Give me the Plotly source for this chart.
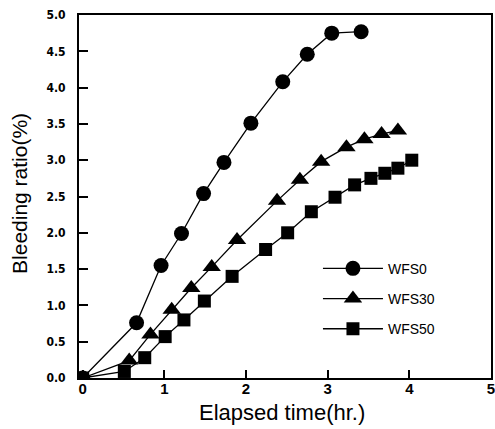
import plotly.graph_objects as go

# ---- data ----
time_wfs0 = [0, 0.66, 0.96, 1.21, 1.48, 1.73, 2.06, 2.45, 2.75, 3.05, 3.41]
ratio_wfs0 = [0, 0.76, 1.55, 1.99, 2.54, 2.97, 3.51, 4.08, 4.46, 4.75, 4.77]

time_wfs30 = [0, 0.57, 0.83, 1.09, 1.33, 1.58, 1.89, 2.38, 2.66, 2.92, 3.23, 3.45, 3.66, 3.86]
ratio_wfs30 = [0, 0.24, 0.60, 0.94, 1.24, 1.53, 1.90, 2.44, 2.73, 2.98, 3.18, 3.29, 3.36, 3.41]

time_wfs50 = [0, 0.51, 0.76, 1.01, 1.24, 1.49, 1.83, 2.24, 2.51, 2.80, 3.09, 3.33, 3.53, 3.70, 3.86, 4.03]
ratio_wfs50 = [0, 0.09, 0.28, 0.57, 0.80, 1.06, 1.40, 1.77, 2.00, 2.29, 2.49, 2.66, 2.75, 2.82, 2.89, 3.00]

series_names = ["WFS0", "WFS30", "WFS50"]
x_ticks = [0, 1, 2, 3, 4, 5]
y_ticks = [0.0, 0.5, 1.0, 1.5, 2.0, 2.5, 3.0, 3.5, 4.0, 4.5, 5.0]
x_title = "Elapsed time(hr.)"
y_title = "Bleeding ratio(%)"

series = [
    (series_names[0], time_wfs0, ratio_wfs0, "circle", 15),
    (series_names[1], time_wfs30, ratio_wfs30, "triangle-up", 16),
    (series_names[2], time_wfs50, ratio_wfs50, "square", 13),
]

fig = go.Figure()
for name, xs, ys, sym, size in series:
    fig.add_trace(go.Scatter(
        x=xs, y=ys, name=name, mode="lines+markers",
        legendgroup=name,
        line=dict(color="black", width=1.3),
        marker=dict(symbol=sym, size=size, color="black"),
    ))

narrow = "Liberation Sans Narrow, DejaVu Sans Condensed, Arial Narrow, Arial, sans-serif"
sans = "Liberation Sans, Arial, Helvetica, sans-serif"

fig.update_layout(
    width=495, height=429,
    margin=dict(l=79, r=4, t=15, b=51, autoexpand=False),
    paper_bgcolor="white", plot_bgcolor="white",
    showlegend=True,
    legend=dict(
        x=0.58, y=0.345, xanchor="left", yanchor="top",
        font=dict(family=sans, size=14, color="black"),
        bgcolor="rgba(0,0,0,0)",
        traceorder="grouped", tracegroupgap=9,
        itemwidth=60,
    ),
    xaxis=dict(
        range=[-0.045, 5.0],
        tickvals=x_ticks, ticktext=[str(v) for v in x_ticks],
        ticks="inside", ticklen=8, tickwidth=2, tickcolor="black",
        showline=True, linecolor="black", linewidth=2, mirror=True,
        showgrid=False, zeroline=False, automargin=False,
        tickfont=dict(family=sans, size=15, color="black", weight="bold"),
        ticklabelstandoff=-4, ticklabeloverflow="allow",
    ),
    yaxis=dict(
        range=[0, 5],
        tickvals=y_ticks, ticktext=[f"{v:.1f}" for v in y_ticks],
        ticks="inside", ticklen=9, tickwidth=2, tickcolor="black",
        showline=True, linecolor="black", linewidth=2, mirror=True,
        showgrid=False, zeroline=False, automargin=False,
        tickfont=dict(family=narrow, size=12, color="black", weight="bold"),
        ticklabelstandoff=9, ticklabeloverflow="allow",
    ),
    annotations=[
        dict(text=x_title, xref="paper", yref="paper", x=0.4927, y=-0.0964,
             xanchor="center", yanchor="middle", showarrow=False,
             font=dict(family=sans, size=22, color="black")),
        dict(text=y_title, xref="paper", yref="paper", x=-0.1432, y=0.507,
             xanchor="center", yanchor="middle", showarrow=False, textangle=-90,
             font=dict(family=sans, size=21, color="black")),
    ],
)

fig.write_html("out.html", config={"displayModeBar": False},
               post_script="document.body.style.margin='0px';")
